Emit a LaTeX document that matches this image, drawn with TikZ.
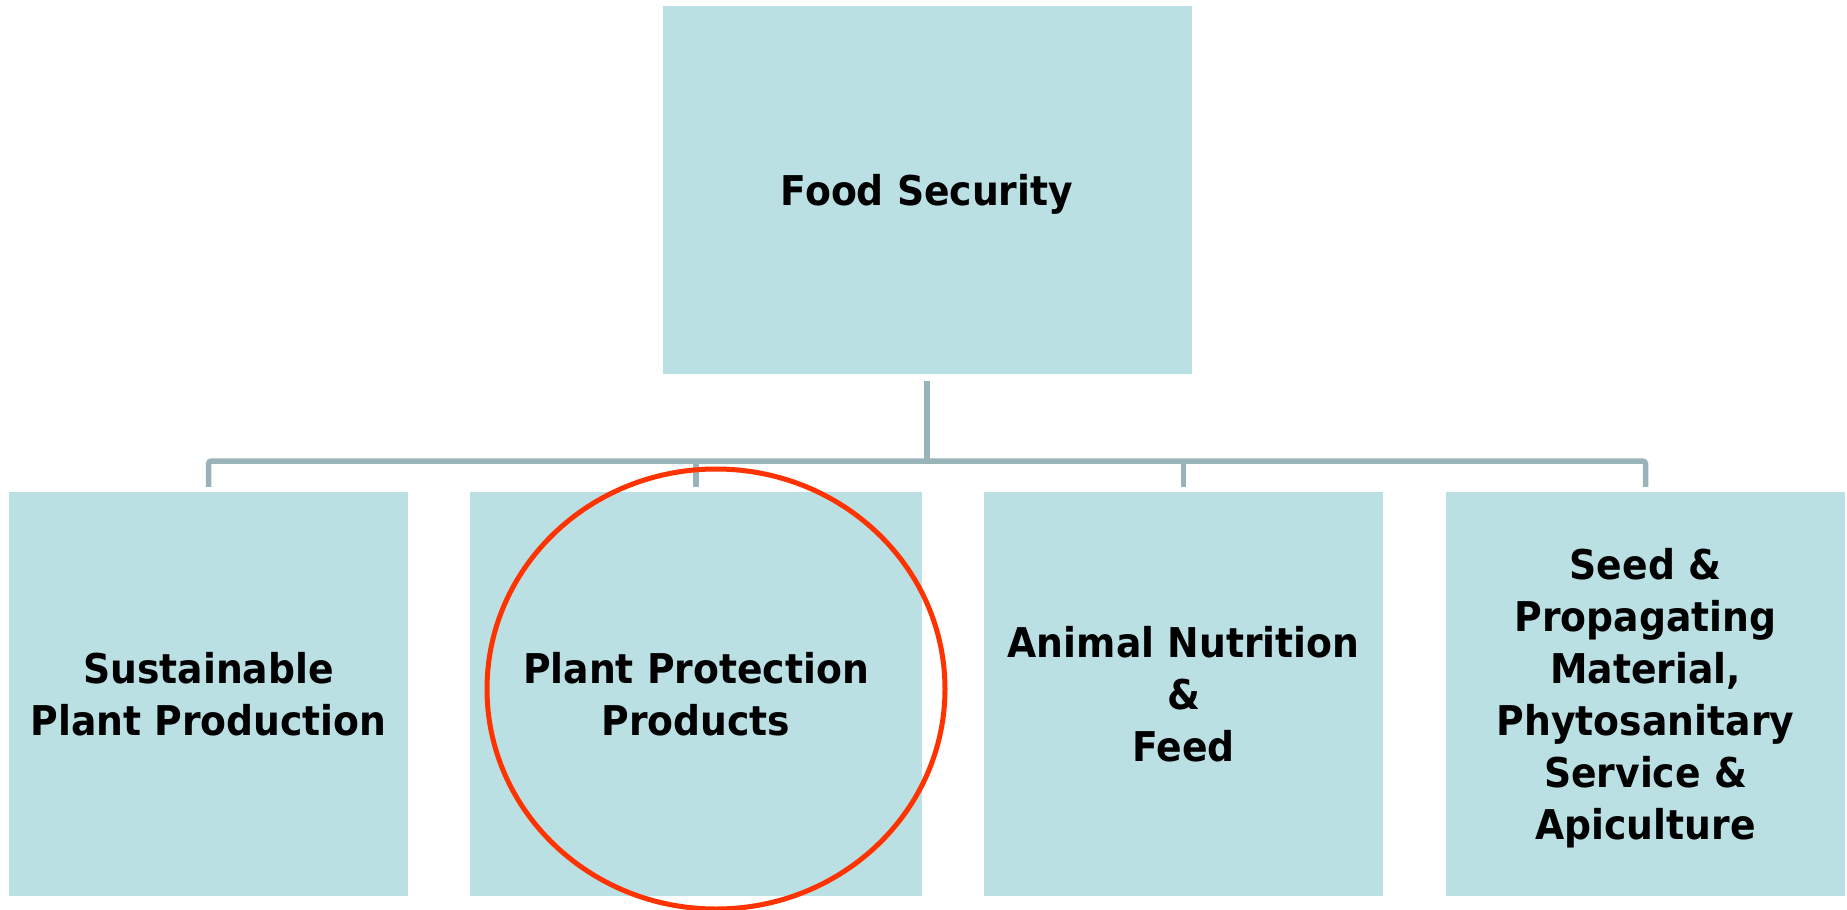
\documentclass[tikz,border=0pt]{standalone}
\usepackage{fontspec}
\newfontfamily\boxfont{DejaVu Sans}[FakeStretch=0.92]
\definecolor{boxfill}{HTML}{BBE0E3}
\definecolor{linkgray}{HTML}{99B4B8}
\definecolor{ringred}{HTML}{FF3300}

\begin{document}
\begin{tikzpicture}[
x=1pt,y=-1pt,
mybox/.style={
  fill=boxfill,
  inner sep=0pt,
  text depth=0pt,
  minimum height=404pt,
  minimum width=399pt,
  align=center,
  font=\boxfont\bfseries\fontsize{41}{52}\selectfont
  },
link/.style={draw=linkgray,line width=5.5pt}
]
\useasboundingbox (0,0) rectangle (1847,910);
\node[mybox,minimum width=529pt,minimum height=368pt] (fs) at (927,189.5) {Food Security};
\node[mybox] (spp) at (208.5,694) {Sustainable\\Plant Production};
\node[mybox,minimum width=452pt] (ppp) at (696,694) {Plant Protection\\Products};
\node[mybox] (anf) at (1183.5,694) {Animal Nutrition\\\&\\Feed};
\node[mybox] (seed) at (1645.5,694) {Seed \&\\Propagating\\Material,\\Phytosanitary\\Service \&\\Apiculture};
\coordinate (bus) at (927,461);
\draw[link] ([yshift=-7pt]fs.south) -- (bus);
\draw[link,rounded corners=3pt] ([yshift=5pt]spp.north) |- (bus) -| ([yshift=5pt]seed.north);
\foreach \n in {ppp,anf}
  \draw[link] ([yshift=5pt]\n.north) -- (\n.north |- bus);
\draw[ringred,line width=5pt] (716,689) ellipse [x radius=229,y radius=220];
\end{tikzpicture}
\end{document}
